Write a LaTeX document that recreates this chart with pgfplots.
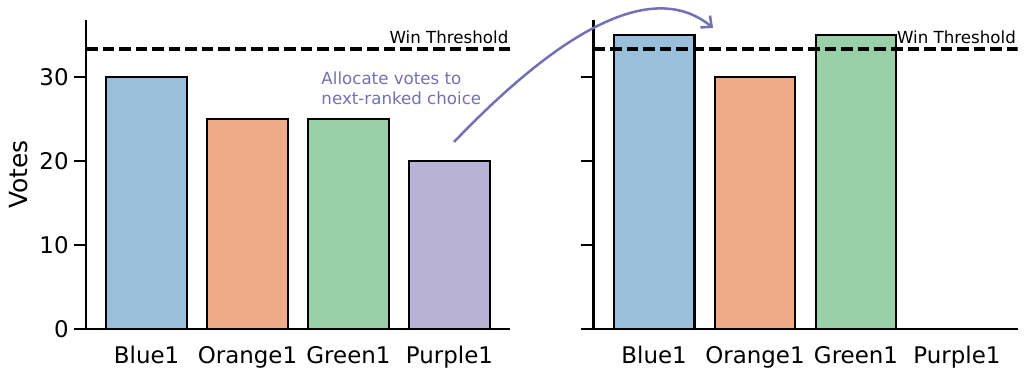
\documentclass[border=0pt]{standalone}
\usepackage{fontspec}
\setmainfont{DejaVu Sans}
\usepackage{pgfplots}
\pgfplotsset{compat=1.18}
\usetikzlibrary{arrows.meta}
\definecolor{cblue}{RGB}{153,191,219}
\definecolor{corange}{RGB}{241,170,134}
\definecolor{cgreen}{RGB}{154,208,168}
\definecolor{cpurple}{RGB}{184,178,214}
\definecolor{annot}{RGB}{117,112,179}
\pgfplotsset{
  myax/.style={
    scale only axis, width=305.28pt, height=222.26pt,
    xmin=-0.6, xmax=3.6, ymin=0, ymax=36.75,
    axis x line*=bottom, axis y line*=left,
    axis line style={line width=1.85pt, -},
    tick align=outside, major tick length=9pt,
    ytick={0,10,20,30},
    xtick={0,1,2,3}, xticklabels={Blue1,Orange1,Green1,Purple1},
    xtick style={draw=none},
    ytick style={line width=1.85pt, black},
    ticklabel style={font=\fontsize{16.5}{19.8}\selectfont},
    /pgf/number format/assume math mode=true,
  },
  mybar/.style={ybar, bar width=0.8, bar shift=0pt, draw=black, line width=1.5pt, fill=#1},
  thr/.style={black, line width=2.2pt, dash pattern=on 8.3pt off 3.6pt},
}
\begin{document}
\begin{tikzpicture}
\path[use as bounding box] (0,0) rectangle (738.72pt,272.88pt);
\begin{axis}[myax, at={(61.92pt,36pt)}, anchor=south west,
  every axis y label/.style={at={(axis description cs:-0.158,0.5)}, rotate=90, anchor=center, font=\fontsize{18}{21.6}\selectfont},
  ylabel={Votes}]
\addplot[mybar=cblue] coordinates {(0,30)};
\addplot[mybar=corange] coordinates {(1,25)};
\addplot[mybar=cgreen] coordinates {(2,25)};
\addplot[mybar=cpurple] coordinates {(3,20)};
\addplot[thr] coordinates {(-0.6,33.3333) (3.6,33.3333)};
\node[anchor=base east, inner sep=0pt, yshift=3.8pt, xshift=-1pt, font=\fontsize{12}{14.4}\selectfont] at (axis cs:3.6,33.3333) {Win Threshold};
\node[anchor=north west, inner sep=0pt, align=left, text=annot, font=\fontsize{12}{14.6}\selectfont] at (axis cs:1.73,30.68) {Allocate votes to\\next-ranked choice};
\end{axis}
\begin{axis}[myax, at={(427.32pt,36pt)}, anchor=south west, yticklabels={}]
\addplot[mybar=cblue] coordinates {(0,35)};
\addplot[mybar=corange] coordinates {(1,30)};
\addplot[mybar=cgreen] coordinates {(2,35)};
\addplot[mybar=cpurple] coordinates {(3,0)};
\addplot[thr] coordinates {(-0.6,33.3333) (3.6,33.3333)};
\node[anchor=base east, inner sep=0pt, yshift=3.8pt, xshift=-1pt, font=\fontsize{12}{14.4}\selectfont] at (axis cs:3.6,33.3333) {Win Threshold};
\end{axis}
\draw[annot, line width=1.8pt, -{Straight Barb[length=6pt,width=11pt]}] (326.88pt,170.64pt) .. controls (410.9pt,258.3pt) and (473.0pt,285.8pt) .. (513.4pt,252.72pt);
\end{tikzpicture}
\end{document}
